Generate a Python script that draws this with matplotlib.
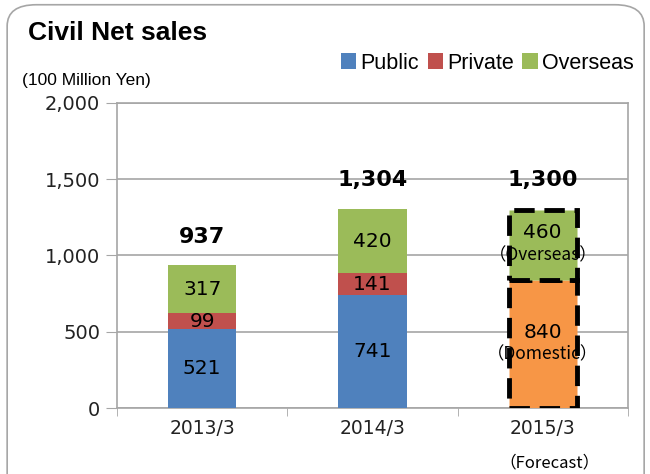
import matplotlib.pyplot as plt
from matplotlib.patches import FancyBboxPatch
import numpy as np

# datos
years = ['2013/3', '2014/3', '2015/3']
public = [521, 741]
private = [99, 141]
overseas = [317, 420]
totals = ['937', '1,304', '1,300']
fc_domestic = 840
fc_overseas = 460

c_pub = '#4f81bd'
c_pri = '#c0504d'
c_ove = '#9bbb59'
c_dom = '#f79646'
cjk = ['Noto Sans CJK JP', 'DejaVu Sans']
arial = 'Liberation Sans'

fig = plt.figure(figsize=(6.5, 4.74), dpi=100)
ax = fig.add_axes([0.18, 0.139, 0.786, 0.644])

# marco redondeado (se sale por abajo)
frame = FancyBboxPatch((0.011, -0.2), 0.98, 1.19, boxstyle='round,pad=0,rounding_size=0.045',
                       transform=fig.transFigure, fill=False, edgecolor='#a6a6a6', linewidth=1.2)
fig.patches.append(frame)

x = np.arange(3)
w = 0.4
pub_b = ax.bar(x[:2], public, w, color=c_pub, label='Public', zorder=3)
pri_b = ax.bar(x[:2], private, w, bottom=public, color=c_pri, label='Private', zorder=3)
bot2 = [a + b for a, b in zip(public, private)]
ove_b = ax.bar(x[:2], overseas, w, bottom=bot2, color=c_ove, label='Overseas', zorder=3)

# pronostico
dash = (0, (4.2, 2))
ax.bar(x[2], fc_domestic, w, color=c_dom, edgecolor='black', linewidth=3.5, linestyle=dash, zorder=3)
ax.bar(x[2], fc_overseas, w, bottom=fc_domestic, color=c_ove, edgecolor='black', linewidth=3.5,
       linestyle=dash, zorder=3)

fs = 14.5
for i in range(2):
    ax.text(x[i], public[i] / 2, str(public[i]), ha='center', va='center', fontsize=fs, zorder=4)
    ax.text(x[i], public[i] + private[i] / 2, str(private[i]), ha='center', va='center', fontsize=fs, zorder=4)
    ax.text(x[i], bot2[i] + overseas[i] / 2, str(overseas[i]), ha='center', va='center', fontsize=fs, zorder=4)

ax.text(x[2], fc_domestic / 2 + 75, str(fc_domestic), ha='center', va='center', fontsize=fs, zorder=4)
ax.text(x[2], fc_domestic / 2 - 70, '（Domestic）', ha='center', va='center', fontsize=12.5, family=cjk, zorder=4)
ax.text(x[2], fc_domestic + fc_overseas / 2 + 80, str(fc_overseas), ha='center', va='center', fontsize=fs, zorder=4)
ax.text(x[2], fc_domestic + fc_overseas / 2 - 70, '（Overseas）', ha='center', va='center', fontsize=12.5,
        family=cjk, zorder=4)

tot_y = [1120, 1495, 1495]
for i in range(3):
    ax.text(x[i], tot_y[i], totals[i], ha='center', va='center', fontsize=16, fontweight='bold', zorder=4)

ax.set_xlim(-0.5, 2.5)
ax.set_ylim(0, 2000)
ax.set_yticks([0, 500, 1000, 1500, 2000])
ax.set_yticklabels(['0', '500', '1,000', '1,500', '2,000'], fontsize=14, color='#222222')
ax.set_xticks(x)
ax.set_xticklabels(years, fontsize=13.5, color='#222222')
ax.set_xticks([-0.5, 0.5, 1.5, 2.5], minor=True)
ax.tick_params(axis='x', which='major', length=0, pad=8)
ax.tick_params(axis='x', which='minor', length=6, color='#a6a6a6', direction='out')
ax.tick_params(axis='y', length=8, color='#a6a6a6', pad=4)
ax.grid(axis='y', color='#a6a6a6', linewidth=1.2, zorder=0)
for s in ax.spines.values():
    s.set_color('#a6a6a6')
    s.set_linewidth(1.2)

fig.text(0.043, 0.930, 'Civil Net sales', fontsize=19, fontweight='bold', va='center', family=arial)
fig.text(0.034, 0.831, '(100 Million Yen)', fontsize=12.5, va='center', family=arial)
fig.text(0.846, 0.023, '（Forecast）', fontsize=12, ha='center', va='center', family=cjk)

fig.legend(handles=[pub_b, pri_b, ove_b], loc='center right', bbox_to_anchor=(0.988, 0.867), ncol=3,
           frameon=False, prop={'family': arial, 'size': 15.5}, handlelength=0.7, handleheight=0.7,
           handletextpad=0.2, columnspacing=0.4, borderaxespad=0)

fig.savefig('out.png', dpi=100)
